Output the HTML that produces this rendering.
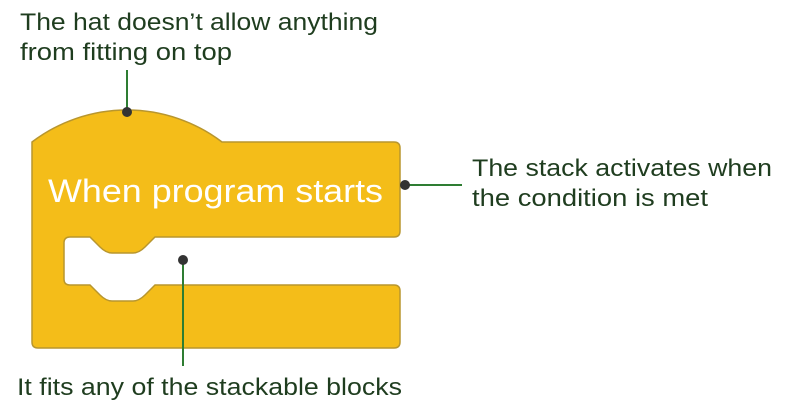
<!DOCTYPE html>
<html><head><style>
body{margin:0;background:#fff;}
svg{display:block}
text{font-family:"Liberation Sans","DejaVu Sans",sans-serif;}
</style></head><body>
<svg width="794" height="416" viewBox="0 0 794 416" xmlns="http://www.w3.org/2000/svg">
<path d="M32,142 A157,157 0 0 1 222,142 L394,142 Q400,142 400,148 L400,231 Q400,237 394,237 L155,237 L145,247 Q139,253 133,253 L112,253 Q106,253 100,247 L90,237 L70,237 Q64,237 64,243 L64,279 Q64,285 70,285 L90,285 L100,295 Q106,301 112,301 L133,301 Q139,301 145,295 L155,285 L394,285 Q400,285 400,291 L400,342 Q400,348 394,348 L38,348 Q32,348 32,342 Z" fill="#F4BD19" stroke="#B8962E" stroke-width="1.5"/>
<text x="48" y="202" font-size="32" fill="#fff" textLength="335" lengthAdjust="spacingAndGlyphs">When program starts</text>
<g stroke="#2E7D32" stroke-width="2">
<line x1="127" y1="70" x2="127" y2="112"/>
<line x1="405" y1="185" x2="462" y2="185"/>
<line x1="183" y1="260" x2="183" y2="366"/>
</g>
<g fill="#333">
<circle cx="127" cy="112" r="5"/>
<circle cx="405" cy="185" r="5"/>
<circle cx="183" cy="260" r="5"/>
</g>
<g font-size="24" fill="#1f3d1f" lengthAdjust="spacingAndGlyphs">
<text x="20" y="30" textLength="358" lengthAdjust="spacingAndGlyphs">The hat doesn’t allow anything</text>
<text x="20" y="60" textLength="212" lengthAdjust="spacingAndGlyphs">from fitting on top</text>
<text x="472" y="176" textLength="300" lengthAdjust="spacingAndGlyphs">The stack activates when</text>
<text x="472" y="206" textLength="236" lengthAdjust="spacingAndGlyphs">the condition is met</text>
<text x="17" y="395" textLength="385" lengthAdjust="spacingAndGlyphs">It fits any of the stackable blocks</text>
</g>
</svg>
</body></html>
